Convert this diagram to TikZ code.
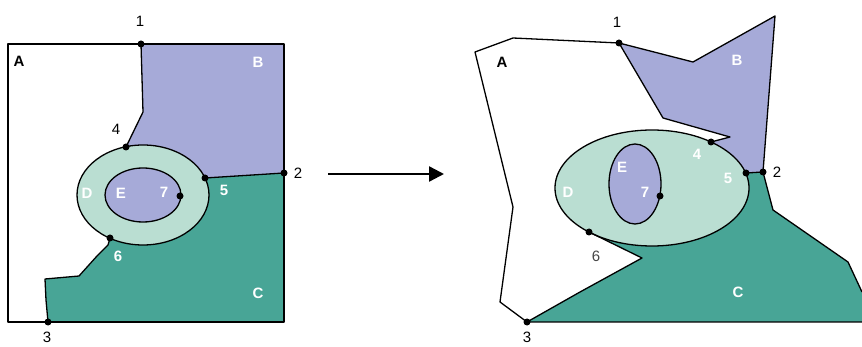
\documentclass[tikz,border=0pt]{standalone}
\usepackage{fontspec}
\setmainfont{Liberation Sans}
\usetikzlibrary{arrows.meta}
\definecolor{regB}{RGB}{166,170,216}
\definecolor{regC}{RGB}{72,165,150}
\definecolor{regD}{RGB}{186,222,210}
\definecolor{labgray}{RGB}{70,70,70}
\tikzset{
  bd/.style={draw=black, line width=1.3pt, line join=round},
  pt/.style={circle, fill=black, inner sep=0pt, minimum size=7pt},
  lbl/.style={inner sep=0pt, font=\fontsize{15}{15}\selectfont},
  wl/.style={inner sep=0pt, text=white, font=\bfseries\fontsize{15}{15}\selectfont},
  bl/.style={inner sep=0pt, text=black, font=\bfseries\fontsize{15}{15}\selectfont},
}
\begin{document}
\begin{tikzpicture}[x=1pt,y=-1pt]
\useasboundingbox (0,0) rectangle (862,347);

% ---------------- left map ----------------
\fill[regB] (141,44) -- (284,44) -- (284,173) -- (205,178) -- (143,195) -- (126,147) -- (143,112) -- cycle;
\fill[regC] (205,178) -- (284,173) -- (284,322) -- (48,322) -- (46,300) -- (45,279) -- (79,276) -- (97,256) -- (108,245) -- (110,238) -- (143,195) -- cycle;
\filldraw[fill=regD, bd] (143,195) ellipse [x radius=66pt, y radius=50pt];
\filldraw[fill=regB, bd] (143,195) ellipse [x radius=38pt, y radius=27pt];
\draw[bd] (8,44) rectangle (284,322);
\draw[bd] (141,44) -- (143,112) -- (126,147);
\draw[bd] (205,178) -- (284,173);
\draw[bd] (110,238) -- (108,245) -- (97,256) -- (79,276) -- (45,279) -- (46,300) -- (48,322);

\node[pt] (l1) at (141,44) {};
\node[pt] (l2) at (284,173) {};
\node[pt] (l3) at (48,322) {};
\node[pt] (l4) at (126,147) {};
\node[pt] (l5) at (205,178) {};
\node[pt] (l6) at (110,238) {};
\node[pt] (l7) at (180,196) {};

\node[lbl] (tl1) at (140,21) {1};
\node[lbl] (tl2) at (298,173) {2};
\node[lbl] (tl3) at (47,337) {3};
\node[lbl] (tl4) at (116,129) {4};
\node[wl] (tl5) at (224,190) {5};
\node[wl] (tl6) at (118,256) {6};
\node[wl] (tl7) at (164,192) {7};
\node[bl] (tlA) at (19,61) {A};
\node[wl] (tlB) at (258,62) {B};
\node[wl] (tlC) at (258,293) {C};
\node[wl] (tlD) at (87,193) {D};
\node[wl] (tlE) at (121,193) {E};

% ---------------- arrow ----------------
\coordinate (arS) at (328,174);
\coordinate (arE) at (444,174);
\draw[line width=2.4pt, -{Triangle[length=15pt,width=15pt]}] (arS) -- (arE);

% ---------------- right map ----------------
\fill[regB] (619,43) -- (693,62) -- (775,16) -- (763,172) -- (746,173) -- (700,185) -- (711,142) -- (730,137) -- (663,118) -- cycle;
\fill[regC] (746,173) -- (763,172) -- (773,210) -- (848,262) -- (862,292) -- (862,322) -- (527,322) -- (580,292) -- (642,258) -- (589,232) -- (652,200) -- cycle;
\filldraw[fill=regD, bd] (652,188) ellipse [x radius=97pt, y radius=58pt];
\filldraw[fill=regB, bd] (635,184) ellipse [x radius=26pt, y radius=40pt];
\draw[bd] (619,43) -- (513,38) -- (475,52) -- (513,207) -- (500,302) -- (527,322) -- (862,322);
\draw[bd] (619,43) -- (693,62) -- (775,16) -- (763,172) -- (773,210) -- (848,262) -- (862,292);
\draw[bd] (619,43) -- (663,118) -- (730,137) -- (711,142);
\draw[bd] (746,173) -- (763,172);
\draw[bd] (527,322) -- (580,292) -- (642,258) -- (589,232);

\node[pt] (r1) at (619,43) {};
\node[pt] (r2) at (763,172) {};
\node[pt] (r3) at (527,322) {};
\node[pt] (r4) at (711,142) {};
\node[pt] (r5) at (746,173) {};
\node[pt] (r6) at (589,232) {};
\node[pt] (r7) at (660,196) {};

\node[lbl] (tr1) at (617,22) {1};
\node[lbl] (tr2) at (777,172) {2};
\node[lbl] (tr3) at (527,337) {3};
\node[wl] (tr4) at (697,154) {4};
\node[wl] (tr5) at (728,178) {5};
\node[lbl, text=labgray] (tr6) at (596,256) {6};
\node[wl] (tr7) at (645,192) {7};
\node[bl] (trA) at (502,62) {A};
\node[wl] (trB) at (737,60) {B};
\node[wl] (trC) at (738,292) {C};
\node[wl] (trD) at (568,192) {D};
\node[wl] (trE) at (622,167) {E};
\end{tikzpicture}
\end{document}
